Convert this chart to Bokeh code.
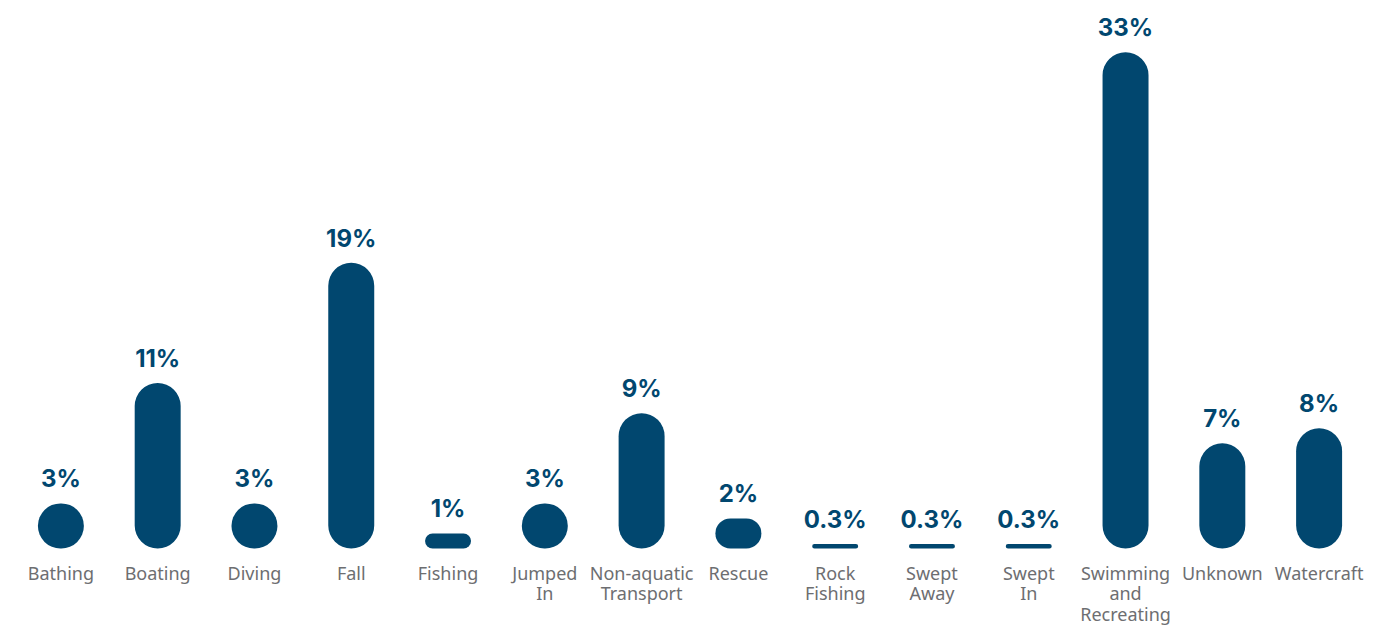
from bokeh.plotting import figure
from bokeh.models import ColumnDataSource, FactorRange, Range1d
from bokeh.core.properties import value
from bokeh.embed import file_html
from bokeh.resources import INLINE

categories = ["Bathing", "Boating", "Diving", "Fall", "Fishing", "Jumped In",
              "Non-aquatic Transport", "Rescue", "Rock Fishing", "Swept Away",
              "Swept In", "Swimming and Recreating", "Unknown", "Watercraft"]
cat_labels = ["Bathing", "Boating", "Diving", "Fall", "Fishing", "Jumped\nIn",
              "Non-aquatic\nTransport", "Rescue", "Rock\nFishing", "Swept\nAway",
              "Swept\nIn", "Swimming\nand\nRecreating", "Unknown", "Watercraft"]
values = [3, 11, 3, 19, 1, 3, 9, 2, 0.3, 0.3, 0.3, 33, 7, 8]
labels = ["3%", "11%", "3%", "19%", "1%", "3%", "9%", "2%", "0.3%", "0.3%", "0.3%", "33%", "7%", "8%"]

BAR = "#01476f"
GREY = "#6d6e71"

src = ColumnDataSource(dict(cat=categories, val=values, lab=labels,
                            clab=cat_labels, zero=[0] * len(values)))

PX = 15.04  # pixels per percent
p = figure(width=1400, height=625, x_range=FactorRange(*categories, range_padding=0),
           y_range=Range1d(-77 / PX, 548 / PX), output_backend="svg", toolbar_location=None,
           min_border_left=12, min_border_right=33, min_border_top=0, min_border_bottom=0)
p.outline_line_color = None
p.background_fill_color = "white"
p.border_fill_color = "white"
p.grid.visible = False
p.axis.visible = False

p.vbar(x="cat", top="val", bottom=0, width=0.475, source=src, fill_color=BAR,
       line_color=None, border_radius=23)

p.text(x="cat", y="val", text="lab", source=src, y_offset=-10,
       text_align="center", text_baseline="bottom", text_color=BAR,
       text_font=value("Inter"), text_font_style="bold", text_font_size="24px")

p.text(x="cat", y="zero", text="clab", source=src, y_offset=12,
       text_align="center", text_baseline="top", text_color=GREY,
       text_font=value("Noto Sans"), text_font_size="18px", text_line_height=0.86)

open("out.html", "w").write(file_html(p, INLINE))
